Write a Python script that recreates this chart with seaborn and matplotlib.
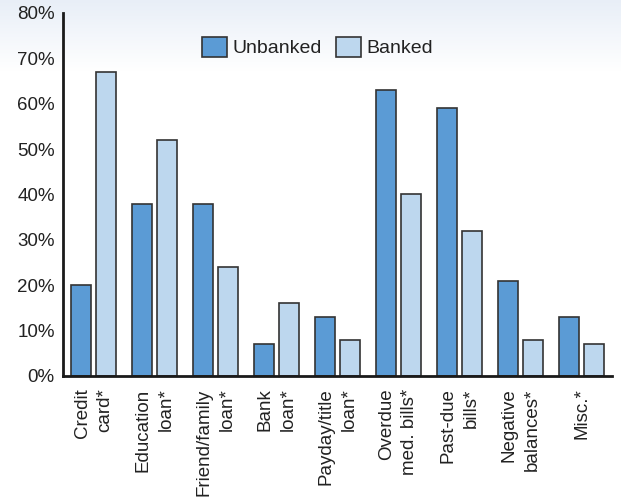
import numpy as np
import pandas as pd
import seaborn as sns
import matplotlib.pyplot as plt
from matplotlib.ticker import PercentFormatter

categories = ['Credit\ncard*', 'Education\nloan*', 'Friend/family\nloan*', 'Bank\nloan*',
              'Payday/title\nloan*', 'Overdue\nmed. bills*', 'Past-due\nbills*',
              'Negative\nbalances*', 'Misc.*']
unbanked = [20, 38, 38, 7, 13, 63, 59, 21, 13]
banked = [67, 52, 24, 16, 8, 40, 32, 8, 7]

df = pd.DataFrame({
    'Category': categories * 2,
    'Status': ['Unbanked'] * len(categories) + ['Banked'] * len(categories),
    'Pct': unbanked + banked,
})

sns.set_theme(style='white')
plt.rcParams['font.family'] = ['Liberation Sans', 'DejaVu Sans']

fig = plt.figure(figsize=(6.21, 5.04), dpi=100)

# faint gradient band at top of figure
bg = fig.add_axes([0, 0, 1, 1], zorder=-1)
grad = np.linspace(0, 1, 504)
fade = np.clip(grad / 0.14, 0, 1)
top = np.array([0.91, 0.935, 0.97])
img = top[None, :] * (1 - fade[:, None]) + np.ones(3)[None, :] * fade[:, None]
bg.imshow(np.repeat(img[:, None, :], 2, axis=1), aspect='auto', extent=[0, 1, 0, 1])
bg.axis('off')

ax = fig.add_axes([63 / 621, 1 - 376 / 504, 549 / 621, 363 / 504])
ax.set_facecolor('none')

palette = {'Unbanked': '#5b9bd5', 'Banked': '#bdd7ee'}
sns.barplot(data=df, x='Category', y='Pct', hue='Status', hue_order=['Unbanked', 'Banked'],
            palette=palette, width=0.8, gap=0.17, edgecolor='#333333', linewidth=1.2,
            saturation=1, ax=ax)

ax.set_xlim(-0.5, len(categories) - 0.5)
ax.set_ylim(0, 80)
ax.yaxis.set_major_formatter(PercentFormatter(decimals=0))
ax.set_yticks(range(0, 81, 10))
ax.set_xlabel('')
ax.set_ylabel('')

for s in ['top', 'right']:
    ax.spines[s].set_visible(False)
for s in ['left', 'bottom']:
    ax.spines[s].set_linewidth(2)
    ax.spines[s].set_color('#1a1a1a')

ax.tick_params(axis='y', length=0, pad=6, labelsize=13.5, labelcolor='#222222')
ax.tick_params(axis='x', which='major', length=0, pad=9)
ax.set_xticks(np.arange(0.5, len(categories), 1), minor=True)
ax.tick_params(axis='x', which='minor', direction='in', length=7, width=2, color='#1a1a1a')
ax.set_xticks(range(len(categories)))
ax.set_xticklabels(categories, rotation=90, ha='center', va='top', ma='right',
                   fontsize=13.5, color='#222222', linespacing=1.45)

leg = ax.legend(loc='center left', bbox_to_anchor=(202 / 621, 1 - 47 / 504),
                bbox_transform=fig.transFigure, ncol=2, frameon=False, fontsize=14,
                handlelength=1.28, handleheight=1.23, handletextpad=0.3,
                columnspacing=0.7, borderpad=0, borderaxespad=0)
for t in leg.get_texts():
    t.set_color('#222222')

fig.savefig('out.png', dpi=100)
